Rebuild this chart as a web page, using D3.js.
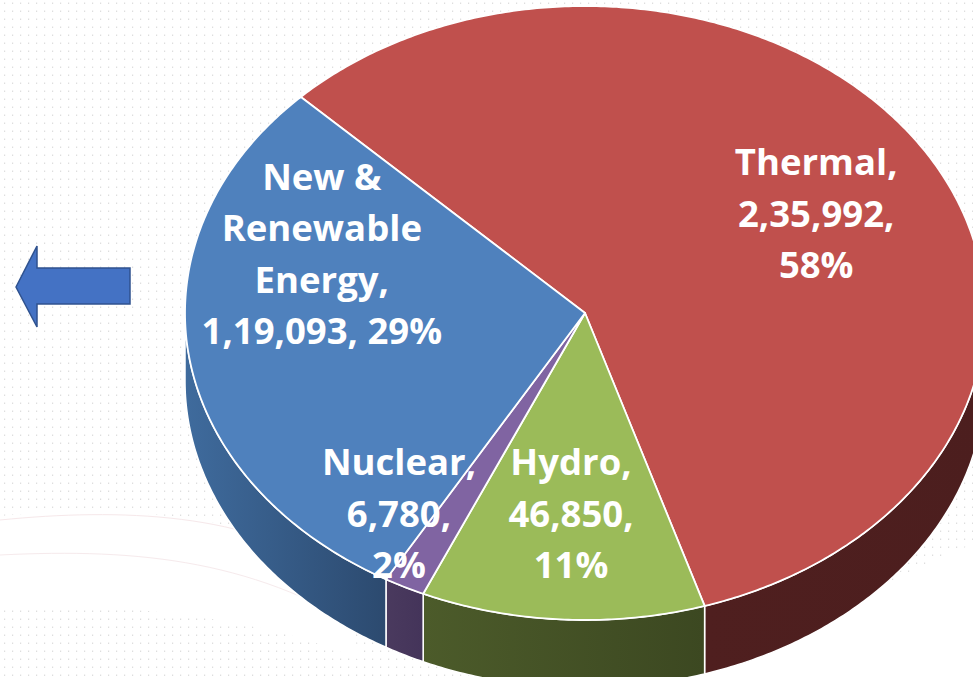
<!DOCTYPE html>
<html>
<head>
<meta charset="utf-8">
<title>Installed capacity by source</title>
<script src="https://cdn.jsdelivr.net/npm/d3@7"></script>
<style>
  body { margin: 0; background: #fff; }
  svg { display: block; }
  .lbl { font-family: "Open Sans", sans-serif; font-weight: 700; fill: #fff; }
</style>
</head>
<body>
<svg id="chart"></svg>
<script>
// data, clockwise from the thermal slice
const categories = ["Thermal", "Hydro", "Nuclear", "New & Renewable Energy"];
const values = [235992, 46850, 6780, 119093];

// styles
const topColors = ["#c0504d", "#9bbb59", "#8064a2", "#4f81bd"];
const sideColors = [["#4f1f1f", "#4c1e1e"], ["#4c5b2a", "#3c4821"], ["#4a3a5e", "#44345a"], ["#3f6b9d", "#2c4a6f"]];

// label placement, as fractions of the radii from the pie centre
const labelPos = [[0.578, -0.448], [-0.035, 0.528], [-0.465, 0.528], [-0.658, -0.401]];

const W = 973, H = 677;
const cx = 585, cy = 313, rx = 400, ry = 307, depth = 68;
const start = -0.79;
const fontSize = 36.5, lineH = 51.5;

const svg = d3.select('#chart').attr('width', W).attr('height', H);
const defs = svg.append('defs');

// dotted slide background
const pat = defs.append('pattern').attr('id', 'dots')
  .attr('patternUnits', 'userSpaceOnUse').attr('width', 8).attr('height', 8);
pat.append('rect').attr('x', 4).attr('y', 2.6).attr('width', 1.2).attr('height', 1.2).attr('fill', '#d6d6d6');
svg.append('rect').attr('width', W).attr('height', H).attr('fill', '#fff');
svg.append('rect').attr('width', W).attr('height', H).attr('fill', 'url(#dots)');

// white swooshes of the slide design
svg.append('path')
  .attr('d', 'M0,516 C120,506 250,512 340,570 L360,660 C260,615 130,606 0,604 Z')
  .attr('fill', '#fff');
svg.append('path')
  .attr('d', 'M0,520 C120,508 250,512 340,575').attr('fill', 'none').attr('stroke', '#f6e8ea').attr('stroke-width', 1);
svg.append('path')
  .attr('d', 'M0,555 C140,548 260,560 380,640').attr('fill', 'none').attr('stroke', '#f6eaec').attr('stroke-width', 1);
svg.append('path')
  .attr('d', 'M973,545 C900,565 820,640 640,677 L973,677 Z').attr('fill', '#fff');

// arrow on the left
svg.append('path')
  .attr('d', 'M16,287 L37,246 L37,268 L130,268 L130,304 L37,304 L37,327 Z')
  .attr('fill', '#4472c4').attr('stroke', '#2f528f').attr('stroke-width', 1.5)
  .attr('stroke-linejoin', 'miter');

const total = d3.sum(values);
const arcs = d3.pie().sort(null).startAngle(start).endAngle(start + 2 * Math.PI)(values);

function pt(a, dy) { return [cx + rx * Math.sin(a), cy - ry * Math.cos(a) + (dy || 0)]; }
function arcPts(a0, a1, dy) {
  const n = Math.max(2, Math.ceil(Math.abs(a1 - a0) / 0.01));
  return d3.range(n + 1).map(i => pt(a0 + (a1 - a0) * i / n, dy));
}
const line = d3.line();

// outer walls, only the front half is visible
const lo = Math.PI / 2, hi = 3 * Math.PI / 2;
const sides = svg.append('g');
arcs.forEach((d, i) => {
  const a0 = Math.max(d.startAngle, lo), a1 = Math.min(d.endAngle, hi);
  if (a1 <= a0) return;
  const g = defs.append('linearGradient').attr('id', 'side' + i)
    .attr('gradientUnits', 'userSpaceOnUse')
    .attr('x1', pt(a1)[0]).attr('x2', pt(a0)[0]).attr('y1', 0).attr('y2', 0);
  g.append('stop').attr('offset', 0).attr('stop-color', sideColors[i][0]);
  g.append('stop').attr('offset', 1).attr('stop-color', sideColors[i][1]);
  const p = arcPts(a0, a1, 0).concat(arcPts(a1, a0, depth));
  sides.append('path')
    .attr('d', line(p) + 'Z')
    .attr('fill', 'url(#side' + i + ')')
    .attr('stroke', '#fff').attr('stroke-width', 1.5).attr('stroke-linejoin', 'round');
});

// top faces
svg.append('g').selectAll('path')
  .data(arcs)
  .join('path')
  .attr('d', d => line([[cx, cy]].concat(arcPts(d.startAngle, d.endAngle, 0))) + 'Z')
  .attr('fill', (d, i) => topColors[i])
  .attr('stroke', '#fff').attr('stroke-width', 1.8).attr('stroke-linejoin', 'round');

// indian digit grouping, e.g. 2,35,992
function indian(n) {
  const s = String(n);
  if (s.length <= 3) return s;
  const last = s.slice(-3);
  let rest = s.slice(0, -3);
  const parts = [];
  while (rest.length > 2) { parts.unshift(rest.slice(-2)); rest = rest.slice(0, -2); }
  if (rest) parts.unshift(rest);
  return parts.join(',') + ',' + last;
}

const labels = svg.append('g');
arcs.forEach((d, i) => {
  const name = categories[i];
  const pct = Math.round(values[i] / total * 100) + '%';
  let lines;
  if (name.indexOf(' ') > 0) {
    lines = name.split(/ (?!&)/);
    lines[lines.length - 1] += ',';
    lines.push(indian(values[i]) + ', ' + pct);
  } else {
    lines = [name + ',', indian(values[i]) + ',', pct];
  }
  const x = cx + rx * labelPos[i][0], y = cy + ry * labelPos[i][1];
  const t = labels.append('text').attr('class', 'lbl')
    .attr('text-anchor', 'middle').style('font-size', fontSize + 'px');
  lines.forEach((s, j) => {
    t.append('tspan').attr('x', x).attr('y', y + j * lineH).text(s);
  });
});
</script>
</body>
</html>
